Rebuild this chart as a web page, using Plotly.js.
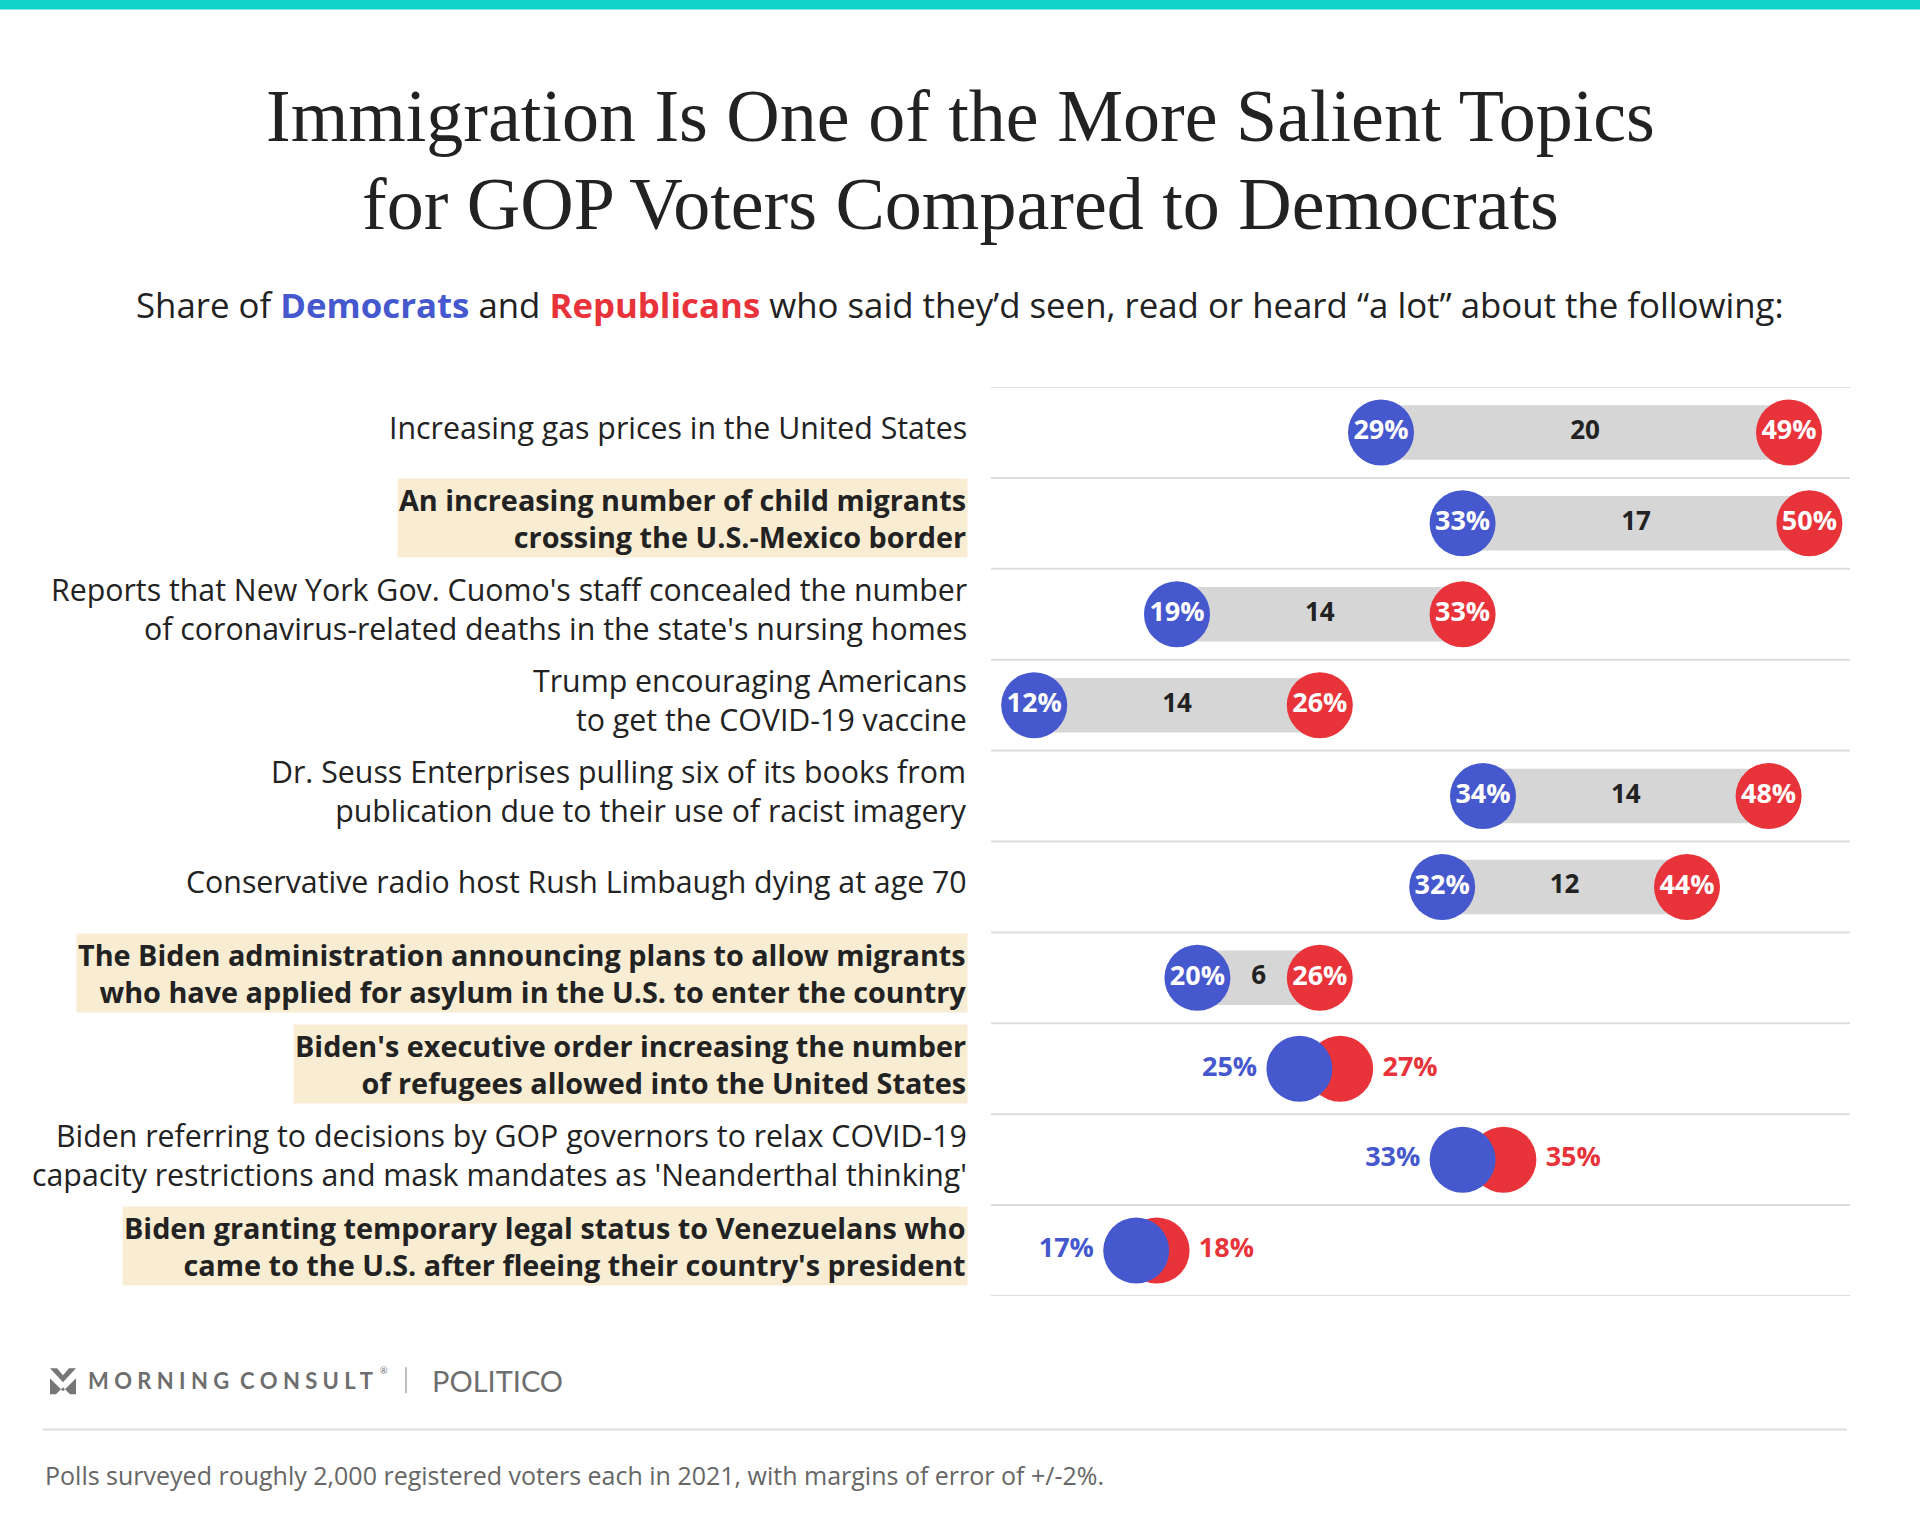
<!DOCTYPE html>
<html>
<head>
<meta charset="utf-8">
<script src="https://cdn.plot.ly/plotly-3.0.1.min.js"></script>
<style>html,body{margin:0;padding:0;background:#fff;}#chart{width:1920px;height:1536px;}</style>
</head>
<body>
<div id="chart"></div>
<script>
// ---------- DATA ----------
const topics = [
  "Increasing gas prices in the United States",
  "An increasing number of child migrants<br>crossing the U.S.-Mexico border",
  "Reports that New York Gov. Cuomo's staff concealed the number<br>of coronavirus-related deaths in the state's nursing homes",
  "Trump encouraging Americans<br>to get the COVID-19 vaccine",
  "Dr. Seuss Enterprises pulling six of its books from<br>publication due to their use of racist imagery",
  "Conservative radio host Rush Limbaugh dying at age 70",
  "The Biden administration announcing plans to allow migrants<br>who have applied for asylum in the U.S. to enter the country",
  "Biden's executive order increasing the number<br>of refugees allowed into the United States",
  "Biden referring to decisions by GOP governors to relax COVID-19<br>capacity restrictions and mask mandates as 'Neanderthal thinking'",
  "Biden granting temporary legal status to Venezuelans who<br>came to the U.S. after fleeing their country's president"
];
const immigrationTopic = [false, true, false, false, false, false, true, true, false, true];
const democrats   = [29, 33, 19, 12, 34, 32, 20, 25, 33, 17];
const republicans = [49, 50, 33, 26, 48, 44, 26, 27, 35, 18];

// ---------- STYLE ----------
const BLUE = '#4658CD', RED = '#E8333A', GRAY = '#D6D6D6', DARK = '#222222';
const HIGHLIGHT = '#F8EDD3';
const FONT = '"Open Sans", Lato, sans-serif';
const L = 991, W = 859, T = 387.3, H = 908.4, FIG_W = 1920, FIG_H = 1536;
const B = FIG_H - T - H;
const px2x = p => (p - L) / W;
const py2y = p => (T + H - p) / H;

const rows = topics.map((_, i) => i);
const gaps = republicans.map((r, i) => r - democrats[i]);
const close = gaps.map(g => g < 4);
const wide = rows.filter(i => !close[i]);

const traces = [
  { // gray connecting bars
    type: 'bar', orientation: 'h', y: rows, base: democrats, x: gaps,
    width: 0.6, marker: {color: GRAY}, hoverinfo: 'skip', showlegend: false
  },
  { // gap labels
    type: 'scatter', mode: 'text',
    x: wide.map(i => (democrats[i] + republicans[i]) / 2), y: wide,
    text: wide.map(i => String(gaps[i])),
    textposition: 'middle center',
    textfont: {family: FONT, size: 26, color: DARK, weight: 'bold'},
    hoverinfo: 'skip', showlegend: false
  },
  { // Republicans
    type: 'scatter', mode: 'markers+text', x: republicans, y: rows,
    marker: {size: 66, color: RED, line: {width: 0}},
    text: republicans.map(v => v + '%'),
    textposition: close.map(c => c ? 'middle right' : 'middle center'),
    textfont: {family: FONT, size: 27, weight: 'bold', color: close.map(c => c ? RED : '#ffffff')},
    cliponaxis: false, hoverinfo: 'skip', showlegend: false
  },
  { // Democrats
    type: 'scatter', mode: 'markers+text', x: democrats, y: rows,
    marker: {size: 66, color: BLUE, line: {width: 0}},
    text: democrats.map(v => v + '%'),
    textposition: close.map(c => c ? 'middle left' : 'middle center'),
    textfont: {family: FONT, size: 27, weight: 'bold', color: close.map(c => c ? BLUE : '#ffffff')},
    cliponaxis: false, hoverinfo: 'skip', showlegend: false
  }
];

const shapes = [];
// top teal strip
shapes.push({type: 'rect', xref: 'paper', yref: 'paper', x0: px2x(0), x1: px2x(FIG_W), y0: py2y(0), y1: py2y(10),
  fillcolor: '#12D4CA', line: {width: 0}, layer: 'below'});
// row separator lines
for (let k = 0; k <= topics.length; k++) {
  shapes.push({type: 'line', xref: 'paper', yref: 'y', x0: 0, x1: 1, y0: k - 0.5, y1: k - 0.5,
    line: {color: '#DDDDDD', width: 2}, layer: 'below'});
}
// footer divider
shapes.push({type: 'line', xref: 'paper', yref: 'paper', x0: px2x(43), x1: px2x(1847), y0: py2y(1429), y1: py2y(1429),
  line: {color: '#DDDDDD', width: 2}});
// separator between logos
shapes.push({type: 'line', xref: 'paper', yref: 'paper', x0: px2x(406), x1: px2x(406), y0: py2y(1367), y1: py2y(1393),
  line: {color: '#AAAAAA', width: 1.5}});
// Morning Consult logo mark
function poly(pts, ox, oy) {
  return 'M' + pts.map(p => px2x(ox + p[0]).toFixed(5) + ',' + py2y(oy + p[1]).toFixed(5)).join(' L') + ' Z';
}
const lx = 50, ly = 1368;
shapes.push({type: 'path', xref: 'paper', yref: 'paper', fillcolor: '#777777', line: {width: 0},
  path: poly([[0,0],[7,0],[13,7],[19,0],[26,0],[13,14]], lx, ly)});
shapes.push({type: 'path', xref: 'paper', yref: 'paper', fillcolor: '#777777', line: {width: 0},
  path: poly([[0,10],[13,23],[26,10],[26,26],[20,26],[13,19],[6,26],[0,26]], lx, ly)});

const annotations = [];
// row labels
topics.forEach((t, i) => {
  const hl = immigrationTopic[i];
  annotations.push({
    xref: 'paper', yref: 'y', x: px2x(968), y: i, yshift: 5,
    xanchor: 'right', yanchor: 'middle', align: 'right',
    text: hl ? '<b>' + t + '</b>' : t,
    showarrow: false,
    font: {family: FONT, size: hl ? 28.8 : 30.3, color: DARK},
    bgcolor: hl ? HIGHLIGHT : 'rgba(0,0,0,0)', borderpad: hl ? 1 : 0
  });
});
// title
annotations.push({
  xref: 'paper', yref: 'paper', x: px2x(960), y: py2y(116), xanchor: 'center', yanchor: 'middle', showarrow: false,
  text: 'Immigration Is One of the More Salient Topics',
  font: {family: '"Liberation Serif", "DejaVu Serif", serif', size: 74, color: '#222222'}
});
annotations.push({
  xref: 'paper', yref: 'paper', x: px2x(960), y: py2y(204), xanchor: 'center', yanchor: 'middle', showarrow: false,
  text: 'for GOP Voters Compared to Democrats',
  font: {family: '"Liberation Serif", "DejaVu Serif", serif', size: 74, color: '#222222'}
});
// subtitle
annotations.push({
  xref: 'paper', yref: 'paper', x: px2x(960), y: py2y(305), xanchor: 'center', yanchor: 'middle',
  showarrow: false,
  text: 'Share of <b><span style="color:' + BLUE + '">Democrats</span></b> and <b><span style="color:' + RED + '">Republicans</span></b> who said they\u2019d seen, read or heard \u201ca lot\u201d about the following:',
  font: {family: FONT, size: 34.8, color: DARK}
});
// footer logos
annotations.push({xref: 'paper', yref: 'paper', x: px2x(86), y: py2y(1380), xanchor: 'left', yanchor: 'middle', showarrow: false,
  text: '<b>M O R N I N G  C O N S U L T</b>', font: {family: 'Lato, sans-serif', size: 22, color: '#6E6E6E'}});
annotations.push({xref: 'paper', yref: 'paper', x: px2x(378), y: py2y(1370), xanchor: 'left', yanchor: 'middle', showarrow: false,
  text: '\u00ae', font: {family: 'Lato, sans-serif', size: 9, color: '#6E6E6E'}});
annotations.push({xref: 'paper', yref: 'paper', x: px2x(430), y: py2y(1380), xanchor: 'left', yanchor: 'middle', showarrow: false,
  text: 'POLITICO', font: {family: 'Lato, sans-serif', size: 29, color: '#6E6E6E'}});
// footnote
annotations.push({xref: 'paper', yref: 'paper', x: px2x(43), y: py2y(1475), xanchor: 'left', yanchor: 'middle', showarrow: false,
  text: 'Polls surveyed roughly 2,000 registered voters each in 2021, with margins of error of +/-2%.',
  font: {family: FONT, size: 25, color: '#666666'}});

const layout = {
  width: FIG_W, height: FIG_H,
  margin: {l: L, r: FIG_W - L - W, t: T, b: B, pad: 0},
  paper_bgcolor: '#ffffff', plot_bgcolor: '#ffffff',
  xaxis: {range: [(L - 789.4) / 20.4, (L + W - 789.4) / 20.4], showgrid: false, zeroline: false,
    showticklabels: false, ticks: '', showline: false, fixedrange: true},
  yaxis: {range: [topics.length - 0.5, -0.5], showgrid: false, zeroline: false,
    showticklabels: false, ticks: '', showline: false, fixedrange: true},
  barmode: 'overlay', showlegend: false,
  shapes: shapes, annotations: annotations,
  font: {family: FONT}
};

Plotly.newPlot('chart', traces, layout, {displayModeBar: false, staticPlot: true});
</script>
</body>
</html>
